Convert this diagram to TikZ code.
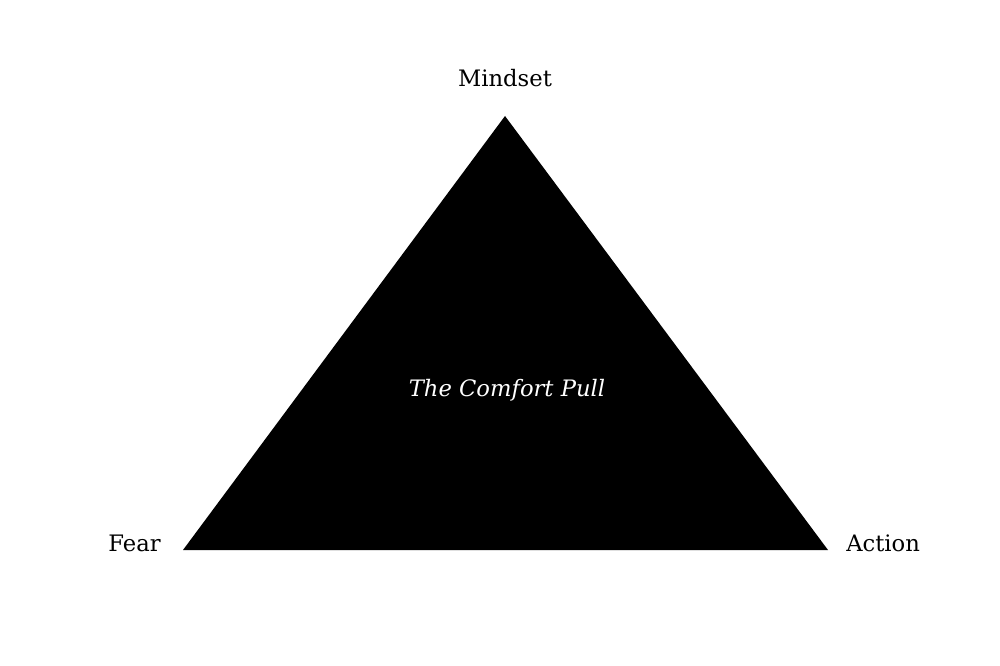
\documentclass[tikz,border=0pt]{standalone}
\usepackage{fontspec}
\setmainfont{DejaVu Serif}
\usetikzlibrary{positioning}
\begin{document}
\begin{tikzpicture}[x=0.75pt, y=-0.75pt,
    label/.style={font=\fontsize{17}{20}\selectfont, inner sep=0pt}]
    \useasboundingbox (0,0) rectangle (1000,666);
    % Triangle corners
    \coordinate (top) at (505,116);
    \coordinate (left) at (183,550);
    \coordinate (right) at (828,550);
    \fill[black] (top) -- (left) -- (right) -- cycle;
    % Corner labels
    \node[label] (mindset) at (505,78) {Mindset};
    \node[label, anchor=east] (fear) at (161,543) {Fear};
    \node[label, anchor=west] (action) at (846,543) {Action};
    % Centre text
    \node[label, white, font=\fontsize{17}{20}\selectfont\itshape] (pull) at (507,390) {The Comfort Pull};
\end{tikzpicture}
\end{document}
